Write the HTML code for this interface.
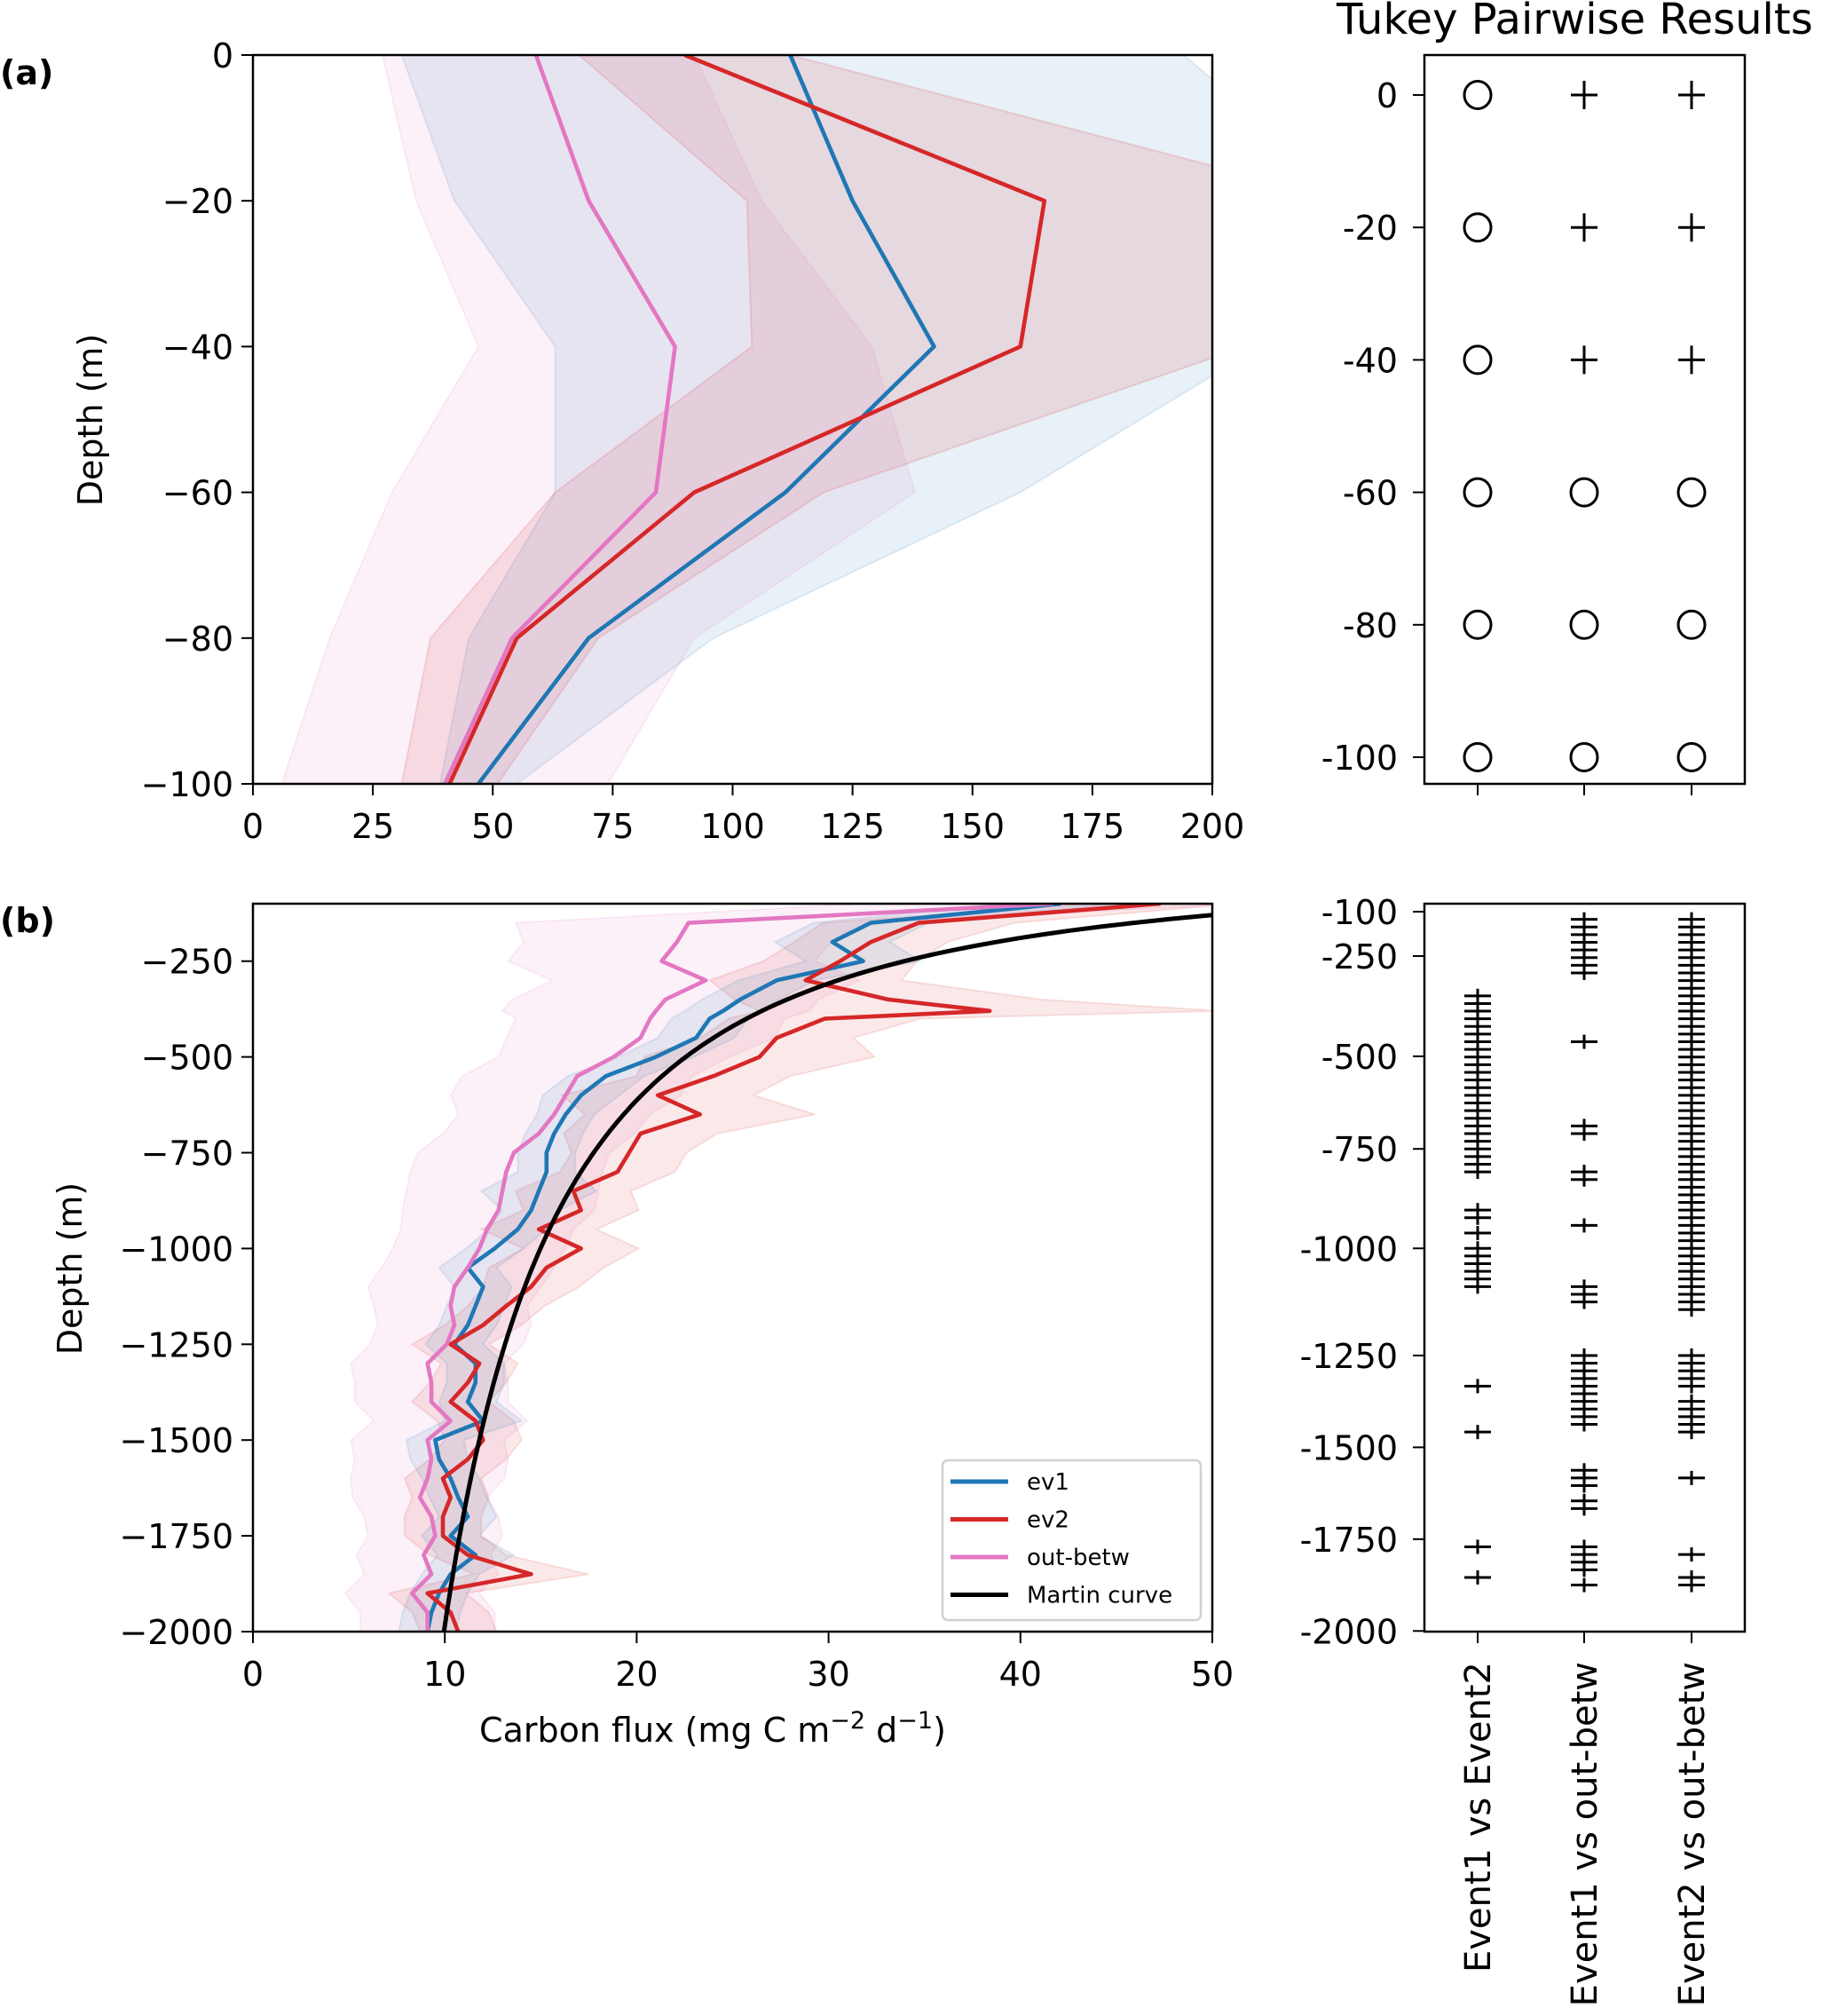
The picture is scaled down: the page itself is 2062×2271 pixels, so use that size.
<!DOCTYPE html>
<html><head><meta charset="utf-8"><style>
html,body{margin:0;padding:0;background:#fff;}
svg{display:block;font-family:"DejaVu Sans","Liberation Sans",sans-serif;}
</style></head><body>
<svg id="fig" width="2062" height="2271" viewBox="0 0 2062 2271" xmlns="http://www.w3.org/2000/svg">
<rect width="2062" height="2271" fill="#fff"/>
<g id="pa"></g>
<g id="pb"></g>
<g id="ra"></g>
<g id="rb"></g>
</svg>
<script>
// ---------- Panel (a) data ----------
const aDepths = [0, -20, -40, -60, -80, -100];
const aEv1 = [112, 125, 142, 111, 70, 47];
const aEv2 = [90, 165, 160, 92, 55, 41];
const aOut = [59, 70, 88, 84, 54, 40];
const aEv1Lo = [31, 42, 63, 63, 45, 39];
const aEv1Hi = [194, 230, 210, 160, 96, 55];
const aEv2Lo = [68, 103, 104, 63, 37, 31];
const aEv2Hi = [112, 228, 207, 119, 72, 51];
const aOutLo = [27, 34, 47, 29, 16, 6];
const aOutHi = [92, 106, 129, 138, 92, 74];
const aXTicks = [0, 25, 50, 75, 100, 125, 150, 175, 200];
const aYTicks = [0, -20, -40, -60, -80, -100];

// ---------- Panel (b) data ----------
const bDepths = [-100,-150,-200,-250,-300,-350,-380,-400,-450,-500,-550,-600,-650,-700,-750,-800,-850,-900,-950,-1000,-1050,-1100,-1150,-1200,-1250,-1300,-1350,-1400,-1450,-1500,-1550,-1600,-1650,-1700,-1750,-1800,-1850,-1900,-1950,-2000];
const bEv1 = [42.1,32.2,30.2,31.8,27.3,25.4,24.5,23.8,23.1,21.0,18.4,17.1,16.3,15.7,15.3,15.3,14.9,14.5,13.8,12.6,11.2,12.0,11.6,11.2,10.5,11.6,11.6,11.2,12.0,9.5,9.7,10.3,10.7,11.2,10.3,11.6,10.3,9.7,9.3,9.1];
const bEv2 = [47.3,34.7,32.2,30.6,28.8,33.1,38.4,29.8,27.3,26.4,24.0,21.1,23.3,20.2,19.6,19.0,16.7,17.1,14.9,17.1,15.3,14.5,13.2,12.0,10.3,11.8,11.2,10.3,11.6,12.0,11.2,9.9,10.3,9.9,9.9,11.2,14.5,9.1,10.3,10.7];
const bOut = [41.7,22.7,22.1,21.3,23.6,21.5,21.0,20.7,20.2,18.8,16.9,16.3,15.7,14.9,13.6,13.2,13.0,12.8,12.2,11.8,11.2,10.5,10.3,10.5,10.1,9.1,9.3,9.3,10.3,9.1,9.3,9.1,8.7,9.3,9.5,8.9,9.3,8.3,9.1,9.1];
const bEv1Spread = [3,3,3,3,2,2,2,2,2,2,2,2,1.5,1.5,1.5,1.5,3,1.5,1.5,1.5,1.5,1.5,1.5,1.5,1.5,1.5,1.5,1.5,2,1.5,1.5,1.5,1.5,1.5,1.5,2,1.5,1.5,1.5,1.5];
const bEv2Spread = [4,5,4,4,5,8,12,5,4,6,4,5,6,4,3,3,3,3,3,3,3,2.5,2,2,2,2,2,2,2,2,2,2,2,2,2,2,3,2,2,2];
const bOutSpread = [10,9,8,8,8,8,8,7,7,6,6,6,5,5,5,5,5,5,4.5,4.5,4.5,4.5,4,4,4,4,4,4,4,4,4,4,3.5,3.5,3.5,3.5,3.5,3.5,3.5,3.5];
const martinF100 = 58.3;
const martinB = 0.59;
const bXTicks = [0, 10, 20, 30, 40, 50];
const bYTicks = [-250, -500, -750, -1000, -1250, -1500, -1750, -2000];

// ---------- Tukey data ----------
const tukeyCols = ["Event1 vs Event2", "Event1 vs out-betw", "Event2 vs out-betw"];
const topRows = [0, -20, -40, -60, -80, -100];
const topSig = [[false,false,false,false,false,false],[true,true,true,false,false,false],[true,true,true,false,false,false]];
const botTickLabels = ["-100","-250","-500","-750","-1000","-1250","-1500","-1750","-2000"];
const botTickRows = [0, 5.8, 18.9, 31, 44, 58, 70, 82, 94];
const col1Rows = [11,12,13,14,15,16,17,18,19,20,21,22,23,24,25,26,27,28,29,30,31,32,33,34,39,40,42,44,45,46,47,48,49,62,68,83,87];
const col2Rows = [1,2,3,4,5,6,7,8,17,28,29,34,35,41,49,50,51,58,59,60,61,62,63,64,65,66,67,73,74,75,77,78,83,84,85,86,88];
const col3Rows = [1,2,3,4,5,6,7,8,9,10,11,12,13,14,15,16,17,18,19,20,21,22,23,24,25,26,27,28,29,30,31,32,33,34,35,36,37,38,39,40,41,42,43,44,45,46,47,48,49,50,51,52,58,59,60,61,62,64,65,66,67,68,74,84,87,88];
const colRows = [col1Rows, col2Rows, col3Rows];

const NS = "http://www.w3.org/2000/svg";
function mk(parent, tag, attrs, text) {
  const e = document.createElementNS(NS, tag);
  for (const k in attrs) e.setAttribute(k, attrs[k]);
  if (text !== undefined) e.textContent = text;
  parent.appendChild(e);
  return e;
}
const BLUE = "#1f77b4", RED = "#d62728", PINK = "#e377c2";
const FS = 38;
const LW = 4.6;

const L = 285, R = 1366;
const A = {top: 62, bot: 883, ymin: -100, ymax: 0, xmin: 0, xmax: 200};
const B = {top: 1018, bot: 1838, ymin: -2000, ymax: -100, xmin: 0, xmax: 50};
function xs(ax, v) { return L + (v - ax.xmin) / (ax.xmax - ax.xmin) * (R - L); }
function ys(ax, v) { return ax.bot - (v - ax.ymin) / (ax.ymax - ax.ymin) * (ax.bot - ax.top); }

const defs = mk(document.getElementById("fig"), "defs", {});
const cpa = mk(defs, "clipPath", {id: "clipA"}); mk(cpa, "rect", {x: L, y: A.top, width: R - L, height: A.bot - A.top});
const cpb = mk(defs, "clipPath", {id: "clipB"}); mk(cpb, "rect", {x: L, y: B.top, width: R - L, height: B.bot - B.top});

function band(g, ax, depths, lo, hi, color, op, name) {
  let d = "";
  depths.forEach((z, i) => { d += (i ? "L" : "M") + xs(ax, lo[i]).toFixed(1) + "," + ys(ax, z).toFixed(1); });
  for (let i = depths.length - 1; i >= 0; i--) d += "L" + xs(ax, hi[i]).toFixed(1) + "," + ys(ax, depths[i]).toFixed(1);
  const p = mk(g, "path", {d: d + "Z", fill: color, "fill-opacity": op, stroke: color, "stroke-opacity": op * 1.2, "stroke-width": 2});
  
  
}
function line(g, ax, depths, vals, color, w, name) {
  let d = "";
  depths.forEach((z, i) => { d += (i ? "L" : "M") + xs(ax, vals[i]).toFixed(1) + "," + ys(ax, z).toFixed(1); });
  const p = mk(g, "path", {d: d, fill: "none", stroke: color, "stroke-width": w, "stroke-linejoin": "round"});
  
  
}
function axesFrame(g, ax, xt, yt) {
  const f = mk(g, "rect", {x: L, y: ax.top, width: R - L, height: ax.bot - ax.top, fill: "none", stroke: "#000", "stroke-width": 2.5});
  
  
  xt.forEach(v => {
    const x = xs(ax, v);
    mk(g, "line", {x1: x, x2: x, y1: ax.bot, y2: ax.bot + 13, stroke: "#000", "stroke-width": 2});
    const t = mk(g, "text", {x: x, y: ax.bot + 61, "font-size": FS, "text-anchor": "middle"}, String(v));
    
    
  });
  yt.forEach(v => {
    const y = ys(ax, v);
    mk(g, "line", {x1: L - 13, x2: L, y1: y, y2: y, stroke: "#000", "stroke-width": 2});
    const t = mk(g, "text", {x: L - 22, y: y + 14, "font-size": FS, "text-anchor": "end"}, String(v).replace("-", "\u2212"));
    
    
  });
}

// ---------- Panel (a) ----------
const pa = document.getElementById("pa");
const ga = mk(pa, "g", {"clip-path": "url(#clipA)"});
band(ga, A, aDepths, aEv1Lo, aEv1Hi, BLUE, 0.1, "ev1-band-a");
band(ga, A, aDepths, aEv2Lo, aEv2Hi, RED, 0.12, "ev2-band-a");
band(ga, A, aDepths, aOutLo, aOutHi, PINK, 0.1, "out-betw-band-a");
line(ga, A, aDepths, aEv1, BLUE, LW, "ev1-line-a");
line(ga, A, aDepths, aEv2, RED, LW, "ev2-line-a");
line(ga, A, aDepths, aOut, PINK, LW, "out-betw-line-a");
axesFrame(pa, A, aXTicks, aYTicks);
let t = mk(pa, "text", {x: 0, y: 95, "font-size": 38, "font-weight": "bold"}, "(a)");
 
t = mk(pa, "text", {x: 115, y: 473, "font-size": 38, "text-anchor": "middle", transform: "rotate(-90 115 473)"}, "Depth (m)");
 

// ---------- Panel (b) ----------
const pb = document.getElementById("pb");
const gb = mk(pb, "g", {"clip-path": "url(#clipB)"});
band(gb, B, bDepths, bOut.map((v, i) => v - bOutSpread[i]), bOut.map((v, i) => v + bOutSpread[i]), PINK, 0.1, "out-betw-band-b");
band(gb, B, bDepths, bEv2.map((v, i) => v - bEv2Spread[i]), bEv2.map((v, i) => v + bEv2Spread[i]), RED, 0.1, "ev2-band-b");
band(gb, B, bDepths, bEv1.map((v, i) => v - bEv1Spread[i]), bEv1.map((v, i) => v + bEv1Spread[i]), BLUE, 0.1, "ev1-band-b");
line(gb, B, bDepths, bEv1, BLUE, LW, "ev1-line-b");
line(gb, B, bDepths, bEv2, RED, LW, "ev2-line-b");
line(gb, B, bDepths, bOut, PINK, LW, "out-betw-line-b");
let md = "";
for (let z = 100; z <= 2000; z += 10) {
  const f = martinF100 * Math.pow(z / 100, -martinB);
  md += (z === 100 ? "M" : "L") + xs(B, f).toFixed(1) + "," + ys(B, -z).toFixed(1);
}
const mc = mk(gb, "path", {d: md, fill: "none", stroke: "#000", "stroke-width": 5});
 
axesFrame(pb, B, bXTicks, bYTicks);
t = mk(pb, "text", {x: 0, y: 1050, "font-size": 38, "font-weight": "bold"}, "(b)");
 
t = mk(pb, "text", {x: 92, y: 1429, "font-size": 38, "text-anchor": "middle", transform: "rotate(-90 92 1429)"}, "Depth (m)");
 
t = mk(pb, "text", {x: 803, y: 1962, "font-size": 38, "text-anchor": "middle"});
 
t.innerHTML = 'Carbon flux (mg C m<tspan dy="-15" font-size="27">\u22122</tspan><tspan dy="15"> d</tspan><tspan dy="-15" font-size="27">\u22121</tspan><tspan dy="15">)</tspan>';
const lg = mk(pb, "g", {});
 
mk(lg, "rect", {x: 1062, y: 1645, width: 291, height: 180, rx: 6, fill: "#fff", "fill-opacity": 0.85, stroke: "#d0d0d0", "stroke-width": 2.5});
const legNames = ["ev1", "ev2", "out-betw", "Martin curve"];
const legCols = [BLUE, RED, PINK, "#000"];
legNames.forEach((n, i) => {
  const y = 1669 + i * 42.5;
  const en = mk(lg, "g", {});
  
  
  mk(en, "line", {x1: 1071, x2: 1136, y1: y, y2: y, stroke: legCols[i], "stroke-width": 5});
  mk(en, "text", {x: 1157, y: y + 9, "font-size": 26}, n);
});

// ---------- Tukey panels ----------
const RL = 1605, RR = 1966;
const colX = [1665, 1785, 1906];
const ra = document.getElementById("ra");
t = mk(ra, "text", {x: 1506, y: 38, "font-size": 48}, "Tukey Pairwise Results");
 
let fr = mk(ra, "rect", {x: RL, y: 62, width: RR - RL, height: 821, fill: "none", stroke: "#000", "stroke-width": 2.5});
 
function rowYTop(i) { return 107 + i * 149.2; }
topRows.forEach((r, i) => {
  const y = rowYTop(i);
  mk(ra, "line", {x1: RL - 13, x2: RL, y1: y, y2: y, stroke: "#000", "stroke-width": 2});
  const tl = mk(ra, "text", {x: RL - 30, y: y + 14, "font-size": FS, "text-anchor": "end"}, String(r));
   
  colX.forEach((cx, c) => {
    let m;
    if (topSig[c][i]) {
      m = mk(ra, "path", {d: "M" + (cx - 15) + "," + y + "h30M" + cx + "," + (y - 16) + "v32", stroke: "#000", "stroke-width": 3, fill: "none"});
    } else {
      m = mk(ra, "ellipse", {cx: cx, cy: y, rx: 15, ry: 15.5, stroke: "#000", "stroke-width": 3, fill: "none"});
    }
     
  });
});
colX.forEach(cx => mk(ra, "line", {x1: cx, x2: cx, y1: 883, y2: 896, stroke: "#000", "stroke-width": 2}));

const rb = document.getElementById("rb");
fr = mk(rb, "rect", {x: RL, y: 1018, width: RR - RL, height: 820, fill: "none", stroke: "#000", "stroke-width": 2.5});
 
function rowYBot(r) { return 1027 + r * 8.62; }
botTickLabels.forEach((lab, i) => {
  const y = rowYBot(botTickRows[i]);
  mk(rb, "line", {x1: RL - 13, x2: RL, y1: y, y2: y, stroke: "#000", "stroke-width": 2});
  const tl = mk(rb, "text", {x: RL - 30, y: y + 14, "font-size": FS, "text-anchor": "end"}, lab);
   
});
colRows.forEach((rows, c) => {
  const cx = colX[c];
  const g = mk(rb, "g", {});
  
  
  rows.forEach(r => {
    const y = rowYBot(r);
    mk(g, "line", {x1: cx - 15, x2: cx + 15, y1: y, y2: y, stroke: "#000", "stroke-width": 3});
    mk(g, "line", {x1: cx, x2: cx, y1: y - 8, y2: y + 8, stroke: "#000", "stroke-width": 3});
  });
  mk(rb, "line", {x1: cx, x2: cx, y1: 1838, y2: 1851, stroke: "#000", "stroke-width": 2});
  const lab = mk(rb, "text", {x: cx + 14, y: 1872, "font-size": 40, "text-anchor": "end", transform: "rotate(-90 " + (cx + 14) + " 1872)"}, tukeyCols[c]);
   
});
</script>
</body></html>
